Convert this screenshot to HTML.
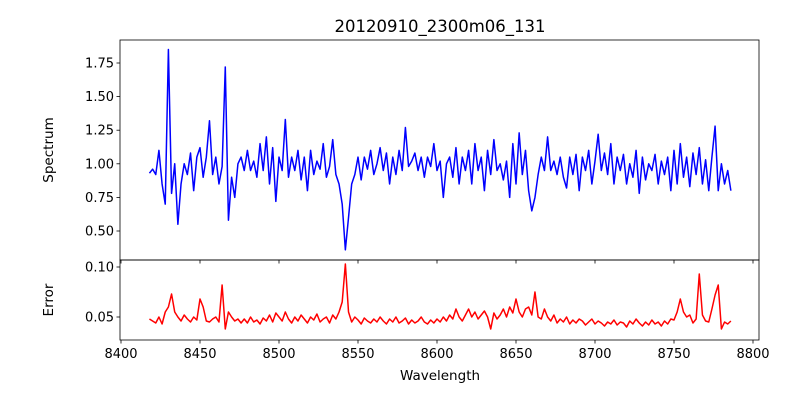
<!DOCTYPE html>
<html><head><meta charset="utf-8"><style>
body{margin:0;background:#fff;}
svg{display:block;font-family:"DejaVu Sans","Liberation Sans",sans-serif;}
</style></head><body>
<svg id="fig" width="800" height="400">
<rect width="800" height="400" fill="#fff"/>
<text x="440" y="32" font-size="16.5" text-anchor="middle">20120910_2300m06_131</text>
<g id="top"></g>
<g id="bot"></g>
<text transform="translate(53,150) rotate(-90)" font-size="13.5" text-anchor="middle">Spectrum</text>
<text transform="translate(53,300) rotate(-90)" font-size="13.5" text-anchor="middle">Error</text>
<text x="440" y="380" font-size="13.5" text-anchor="middle">Wavelength</text>
</svg>
<script>
const startWave = 8418;
const waveStep = 2;
const spectrum = [
0.93,0.96,0.92,1.10,0.85,0.70,1.85,0.78,1.00,0.55,
0.85,1.00,0.92,1.08,0.80,1.05,1.12,0.90,1.05,1.32,
0.92,1.05,0.85,0.98,1.72,0.58,0.90,0.75,1.00,1.05,
0.95,1.10,0.95,1.02,0.90,1.15,0.95,1.20,0.85,1.12,
0.72,1.05,0.95,1.33,0.90,1.05,0.95,1.10,0.88,1.05,
0.80,1.10,0.92,1.02,0.96,1.15,0.90,0.98,1.18,0.92,
0.85,0.70,0.36,0.60,0.85,0.92,1.05,0.88,1.05,0.96,
1.10,0.92,1.00,1.12,0.95,1.08,0.85,1.05,0.92,1.10,
0.95,1.27,0.98,1.02,1.08,0.95,1.05,0.90,1.05,0.98,
1.15,0.95,1.02,0.75,1.00,1.05,0.90,1.12,0.85,1.05,
0.95,1.10,0.85,1.15,0.95,1.05,0.80,1.10,0.92,1.18,
0.95,1.00,0.88,1.02,0.75,1.15,0.85,1.23,0.92,1.10,
0.80,0.65,0.75,0.92,1.05,0.95,1.20,0.95,1.02,0.92,
1.05,0.90,0.82,1.05,0.92,1.07,0.80,1.05,0.95,1.10,
0.85,1.02,1.22,0.95,1.08,0.92,1.15,0.85,1.05,0.95,
1.07,0.85,1.00,0.90,1.10,0.78,1.05,0.88,1.00,0.95,
1.07,0.85,1.02,0.92,1.05,0.80,1.10,0.85,1.15,0.90,
1.05,0.83,1.08,0.92,1.12,0.85,1.03,0.80,1.05,1.28,
0.80,1.00,0.85,0.95,0.80];
const errors = [
0.048,0.046,0.044,0.050,0.043,0.055,0.060,0.073,0.055,0.050,
0.046,0.052,0.048,0.045,0.050,0.047,0.068,0.060,0.046,0.045,
0.048,0.050,0.045,0.082,0.038,0.055,0.050,0.046,0.048,0.044,
0.048,0.044,0.050,0.045,0.047,0.043,0.049,0.046,0.052,0.045,
0.054,0.050,0.046,0.055,0.048,0.044,0.050,0.046,0.052,0.048,
0.044,0.050,0.047,0.053,0.045,0.048,0.050,0.044,0.052,0.048,
0.055,0.065,0.103,0.055,0.045,0.050,0.047,0.043,0.049,0.046,
0.044,0.048,0.045,0.050,0.046,0.043,0.048,0.045,0.050,0.044,
0.046,0.049,0.043,0.047,0.044,0.046,0.050,0.045,0.043,0.047,
0.044,0.048,0.045,0.050,0.046,0.052,0.048,0.058,0.050,0.046,
0.052,0.058,0.050,0.055,0.048,0.052,0.056,0.050,0.038,0.054,
0.048,0.052,0.058,0.050,0.060,0.054,0.068,0.055,0.050,0.058,
0.060,0.052,0.075,0.050,0.048,0.058,0.050,0.046,0.052,0.044,
0.048,0.045,0.050,0.043,0.047,0.044,0.048,0.046,0.042,0.045,
0.048,0.043,0.046,0.044,0.041,0.045,0.043,0.047,0.042,0.045,
0.044,0.040,0.046,0.043,0.048,0.044,0.041,0.045,0.042,0.047,
0.043,0.045,0.041,0.046,0.043,0.048,0.047,0.055,0.068,0.055,
0.050,0.052,0.044,0.048,0.093,0.052,0.046,0.045,0.058,0.072,
0.082,0.038,0.045,0.043,0.046];
const xTicks = [8400,8450,8500,8550,8600,8650,8700,8750,8800];
const topTicks = [0.50,0.75,1.00,1.25,1.50,1.75];
const botTicks = [0.05,0.10];

const NS="http://www.w3.org/2000/svg";
const L=120,R=759;
const xs = w => 121 + (w-8400)*1.58;
const ysTop = v => 231 - (v-0.5)*134.4;
const ysBot = v => 317 - (v-0.05)*1000;
function mk(tag,attrs,parent){const e=document.createElementNS(NS,tag);for(const k in attrs)e.setAttribute(k,attrs[k]);parent.appendChild(e);return e;}
function panel(g,y0,y1,vals,ys,ticks,color,fmt,showX){
  const pts=vals.map((v,i)=>xs(startWave+waveStep*i).toFixed(2)+','+ys(v).toFixed(2)).join(' ');
  const line=mk('polyline',{points:pts,fill:'none',stroke:color,'stroke-width':1.5,'stroke-linejoin':'round'},g);
  
  
  ticks.forEach(t=>{const y=ys(t);
    const tk=mk('line',{x1:L-3.5,x2:L,y1:y,y2:y,stroke:'#000','stroke-width':0.8},g);
    
    
    const tx=mk('text',{x:L-6,y:y+4.5,'font-size':13,'text-anchor':'end'},g);tx.textContent=fmt(t);
    
    
  });
  xTicks.forEach(t=>{const x=xs(t);
    const tk=mk('line',{x1:x,x2:x,y1:y1,y2:y1+3.5,stroke:'#000','stroke-width':0.8},g);
    
    
    if(showX){const tx=mk('text',{x:x,y:y1+18,'font-size':13,'text-anchor':'middle'},g);tx.textContent=t;
      
      }
  });
  const fr=mk('rect',{x:L,y:y0,width:R-L,height:y1-y0,fill:'none',stroke:'#000','stroke-width':0.8},g);
  
  
}
panel(document.getElementById('top'),40,260,spectrum,ysTop,topTicks,'#0000ff',t=>t.toFixed(2),false);
panel(document.getElementById('bot'),260,340,errors,ysBot,botTicks,'#ff0000',t=>t.toFixed(2),true);
</script>
</body></html>
